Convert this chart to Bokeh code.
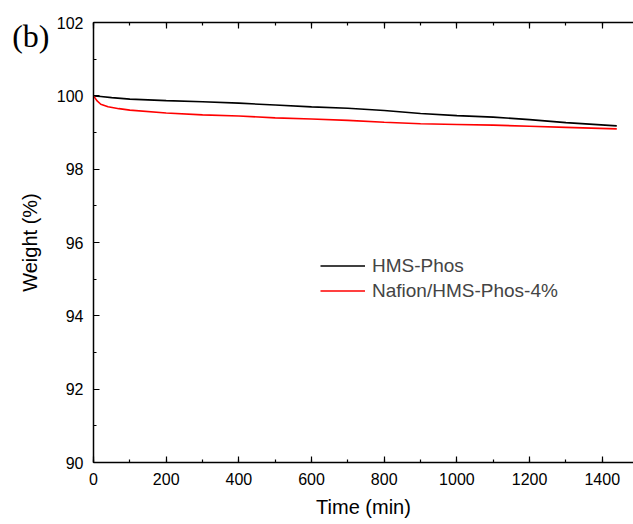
from bokeh.plotting import figure
from bokeh.models import LinearAxis, Legend, LegendItem, Range1d, FixedTicker
from bokeh.embed import file_html
from bokeh.resources import INLINE

# data
t_hms = [0, 20, 50, 100, 200, 300, 400, 500, 600, 700, 800, 900, 1000, 1100, 1200, 1300, 1440]
w_hms = [100.0, 99.98, 99.95, 99.91, 99.87, 99.84, 99.80, 99.75, 99.70, 99.66, 99.60, 99.52,
         99.46, 99.42, 99.35, 99.27, 99.18]
t_naf = [0, 5, 10, 20, 40, 70, 100, 200, 300, 400, 500, 600, 700, 800, 900, 1000, 1100, 1200, 1300, 1440]
w_naf = [100.0, 99.93, 99.86, 99.77, 99.70, 99.65, 99.61, 99.53, 99.48, 99.45, 99.40, 99.37,
         99.33, 99.28, 99.24, 99.22, 99.20, 99.17, 99.14, 99.10]
x_ticks = [0, 200, 400, 600, 800, 1000, 1200, 1400]
y_ticks = [90, 92, 94, 96, 98, 100, 102]
x_minor = list(range(0, 1500, 100))
y_minor = list(range(90, 103, 1))
panel_tag = "(b)"
panel_tag_y = 101.62

FONT = "Liberation Sans"

p = figure(width=633, height=524, output_backend="svg", toolbar_location=None,
           x_range=Range1d(0, 1486), y_range=Range1d(90, 102),
           min_border_left=93, min_border_right=0, min_border_top=22, min_border_bottom=62,
           x_axis_label="Time (min)")
p.outline_line_color = None
p.grid.visible = False
p.background_fill_color = "white"
p.border_fill_color = "white"

for ax in p.xaxis + p.yaxis:
    ax.axis_line_width = 1.5
    ax.axis_line_color = "black"
    ax.major_tick_in = 6
    ax.major_tick_out = 0
    ax.minor_tick_in = 3
    ax.minor_tick_out = 0
    ax.major_tick_line_width = 1.2
    ax.minor_tick_line_width = 1.2
    ax.major_label_text_font = FONT
    ax.major_label_text_font_size = "16px"
    ax.major_label_text_color = "black"
    ax.axis_label_text_font = FONT
    ax.axis_label_text_font_size = "20px"
    ax.axis_label_text_font_style = "normal"
    ax.axis_label_text_color = "black"

p.xaxis.ticker = FixedTicker(ticks=x_ticks, minor_ticks=x_minor)
p.yaxis.ticker = FixedTicker(ticks=y_ticks, minor_ticks=y_minor)
p.xaxis.major_label_standoff = 10
p.yaxis.major_label_standoff = 10
p.xaxis.axis_label_standoff = 8

# outer left axis: carries the panel tag "(b)" and the y-axis title
outer = LinearAxis(ticker=FixedTicker(ticks=[panel_tag_y], minor_ticks=[]),
                   major_label_overrides={panel_tag_y: panel_tag},
                   axis_line_color=None, major_tick_line_color=None, minor_tick_line_color=None,
                   major_tick_in=0, major_tick_out=0, minor_tick_in=0, minor_tick_out=0,
                   major_label_standoff=4,
                   major_label_text_font="Liberation Serif", major_label_text_font_size="32px",
                   major_label_text_color="black",
                   axis_label="Weight (%)", axis_label_standoff=-32,
                   axis_label_text_font=FONT, axis_label_text_font_size="20px",
                   axis_label_text_font_style="normal", axis_label_text_color="black")
p.add_layout(outer, "left")

top = LinearAxis(ticker=FixedTicker(ticks=x_ticks, minor_ticks=x_minor),
                 major_label_overrides={t: "" for t in x_ticks},
                 major_label_text_font_size="0px", axis_line_width=1.5,
                 major_tick_in=6, major_tick_out=0, minor_tick_in=3, minor_tick_out=0,
                 major_tick_line_width=1.2, minor_tick_line_width=1.2)
p.add_layout(top, "above")

r1 = p.line(t_hms, w_hms, line_color="black", line_width=1.6)
r2 = p.line(t_naf, w_naf, line_color="#ff0000", line_width=1.6)

legend = Legend(items=[LegendItem(label="HMS-Phos", renderers=[r1]),
                       LegendItem(label="Nafion/HMS-Phos-4%", renderers=[r2])],
                location=(227, 159), glyph_width=45, label_standoff=7,
                label_height=25, glyph_height=25, spacing=0, padding=0, margin=0,
                border_line_color=None, background_fill_alpha=0,
                label_text_font=FONT, label_text_font_size="19px")
p.add_layout(legend, "center")

open("out.html", "w").write(file_html(p, INLINE))
